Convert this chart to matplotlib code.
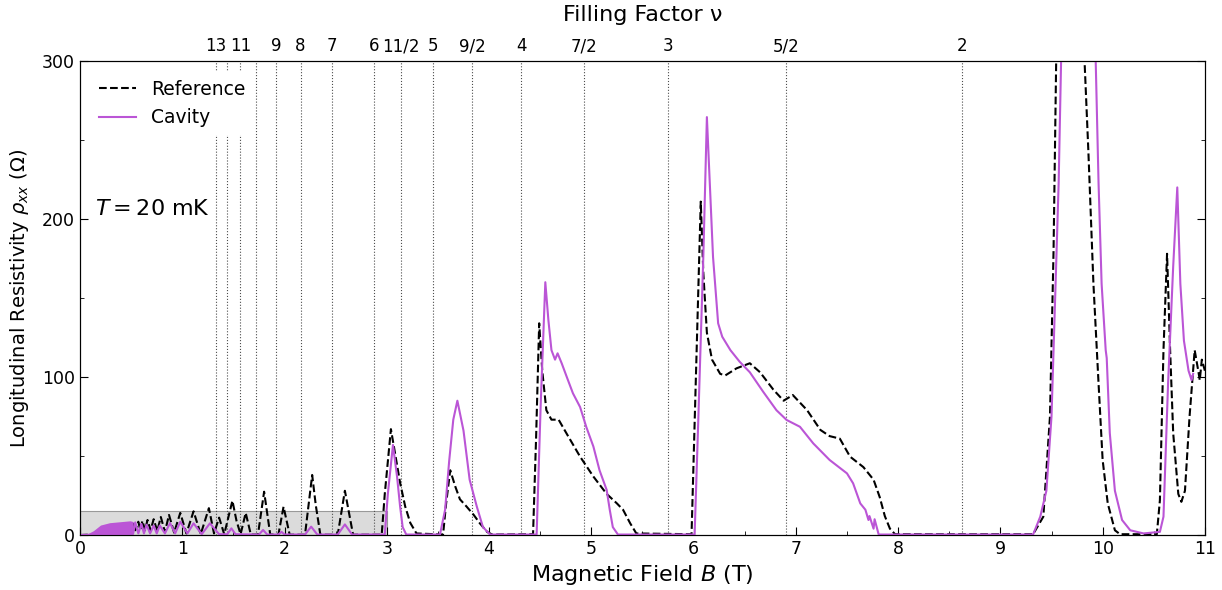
import numpy as np
import matplotlib
matplotlib.use("Agg")
import matplotlib.pyplot as plt
from matplotlib.ticker import MultipleLocator

# filling factors shown on the top axis
nu_vals = [13, 12, 11, 10, 9, 8, 7, 6, 5.5, 5, 4.5, 4, 3.5, 3, 2.5, 2]
nu_labels = ["13", "", "11", "", "9", "8", "7", "6", "11/2", "5", "9/2", "4",
             "7/2", "3", "5/2", "2"]
nu_field = [1.327, 1.4375, 1.568, 1.725, 1.917, 2.156, 2.464, 2.875, 3.136,
            3.45, 3.833, 4.3125, 4.93, 5.75, 6.90, 8.625]

# reference trace (B in T, rho_xx in Ohm)
ref_B = [0.0, 0.40, 0.44, 0.46, 0.48, 0.50, 0.52, 0.54, 0.57, 0.59, 0.61, 0.635,
         0.66, 0.69, 0.72, 0.755, 0.79, 0.83, 0.87, 0.92, 0.98, 1.04, 1.11, 1.18,
         1.26, 1.31, 1.36, 1.41, 1.45, 1.49, 1.53, 1.57, 1.62, 1.67, 1.74, 1.77,
         1.80, 1.83, 1.86, 1.94, 1.965, 1.99, 2.02, 2.05, 2.20, 2.235, 2.27, 2.305,
         2.35, 2.52, 2.555, 2.59, 2.63, 2.67, 2.95, 2.98, 3.04, 3.08, 3.13, 3.18,
         3.23, 3.29, 3.55, 3.58, 3.62, 3.67, 3.715, 3.78, 3.85, 3.91, 3.98, 4.03,
         4.43, 4.46, 4.49, 4.52, 4.56, 4.61, 4.68, 4.76, 4.89, 5.02, 5.15, 5.25,
         5.31, 5.38, 5.44, 5.98, 6.01, 6.07, 6.095, 6.13, 6.18, 6.26, 6.31, 6.42,
         6.55, 6.65, 6.78, 6.88, 6.97, 7.11, 7.24, 7.33, 7.43, 7.53, 7.66, 7.76,
         7.82, 7.87, 7.92, 7.97, 9.32, 9.42, 9.485, 9.52, 9.55, 9.70, 9.81, 9.86,
         9.91, 9.96, 10.0, 10.05, 10.12, 10.17, 10.53, 10.56, 10.595, 10.63, 10.66,
         10.69, 10.74, 10.77, 10.805, 10.85, 10.90, 10.935, 10.95, 10.97, 11.0]
ref_R = [0.0, 1, 5, 2, 6, 2.5, 7, 3, 8.4, 3, 9, 3,
         9.5, 3, 10, 2.5, 11.4, 2, 12.7, 1.5, 14, 1, 15, 0.5,
         17, 1, 11, 0.5, 11, 21.7, 9, 0.5, 14, 0.3, 0.3, 14,
         27.4, 14, 0.3, 0.3, 9, 17.9, 9, 0.2, 0.2, 19, 38, 19,
         0.2, 0.2, 14, 28, 14, 0.2, 0.2, 26, 67, 52, 33, 18,
         7.6, 1, 0.3, 20, 41, 30.6, 22.6, 18, 12.7, 7.4, 2, 0.3,
         0.5, 62, 134, 104, 79, 73, 73, 64, 49.6, 37, 26, 20,
         16, 7.4, 1, 0.5, 70, 211, 166, 128, 111, 102, 101, 105.5,
         108.7, 103, 92, 85, 88.6, 79, 66.5, 62.6, 61, 49.6, 43, 35,
         24, 12, 4, 0.5, 0.5, 11.6, 75, 180, 320, 500, 320, 243.7,
         159, 96, 47.5, 20, 3, 0.5, 0.5, 22, 117, 178, 117,
         64.5, 26, 21, 28, 75, 117, 104, 98, 111, 104]

# cavity trace, low-field part drawn as an envelope of unresolved oscillations
cav_env_B = [0.05, 0.13, 0.20, 0.29, 0.39, 0.49, 0.52]
cav_env_R = [0.0, 2.7, 6.3, 7.8, 8.4, 9.0, 8.5]

cav_B = [0.0, 0.52, 0.54, 0.57, 0.60, 0.625, 0.65, 0.685, 0.72, 0.75, 0.78, 0.83,
         0.88, 0.93, 0.98, 1.05, 1.11, 1.19, 1.27, 1.36, 1.44, 1.48, 1.52, 1.75,
         1.79, 1.83, 1.94, 1.97, 2.00, 2.20, 2.26, 2.32, 2.52, 2.59, 2.66, 2.98,
         3.01, 3.06, 3.10, 3.13, 3.155, 3.19, 3.52, 3.57, 3.61, 3.65, 3.69, 3.75,
         3.81, 3.88, 3.94, 4.01, 4.465, 4.505, 4.55, 4.58, 4.61, 4.645, 4.67, 4.71,
         4.76, 4.82, 4.89, 4.95, 5.02, 5.08, 5.15, 5.18, 5.21, 5.26, 6.01, 6.045,
         6.095, 6.13, 6.19, 6.24, 6.28, 6.36, 6.45, 6.55, 6.68, 6.81, 6.91, 7.04,
         7.17, 7.33, 7.50, 7.56, 7.63, 7.68, 7.71, 7.72, 7.76, 7.77, 7.81, 9.32,
         9.39, 9.45, 9.50, 9.53, 9.57, 9.60, 9.78, 9.925, 9.96, 9.99, 10.03, 10.04,
         10.07, 10.12, 10.19, 10.27, 10.40, 10.56, 10.595, 10.64, 10.69, 10.73,
         10.76, 10.795, 10.84, 10.87, 10.885]
cav_R = [0.0, 1, 8, 1, 7, 1, 6.5, 1, 6, 1, 6, 1,
         7.6, 1, 8.4, 1, 7.4, 0.5, 7.4, 0.5, 0.5, 4.2, 0.5, 0.3,
         3.2, 0.3, 0.3, 2, 0.3, 0.3, 5.3, 0.3, 0.3, 6.7, 0.3, 0.3,
         26, 57, 37, 18, 5, 0.3, 0.3, 16, 47, 73, 85, 66,
         35, 18, 5, 0.3, 0.3, 83, 160, 136, 117, 111, 115, 108.7,
         100, 89.7, 81, 68.5, 56, 41, 28.5, 16, 5, 0.3, 0.3, 71,
         176, 264.5, 176, 134, 125.5, 117, 109.7, 103, 90.7, 79, 72.8, 68.5,
         58, 47.5, 39, 32.7, 20, 16, 9.5, 12, 4, 10, 0.3, 0.3,
         11.6, 28, 75, 138, 223, 320, 500, 320, 223, 159, 117, 112,
         64.5, 28, 9.5, 3, 1, 2, 11.6, 96, 170, 220,
         159, 123, 104, 98, 102]

fig, ax = plt.subplots(figsize=(12.22, 5.9), dpi=100)
fig.subplots_adjust(left=0.0655, right=0.986, bottom=0.0932, top=0.8966)

purple = "#BB55D6"

# shaded low-field box
ax.fill_between([0, 3.0], 0, 15, facecolor="0.86", edgecolor="0.6", lw=0.8, zorder=0)

for b in nu_field:
    ax.axvline(b, color="0.3", ls=":", lw=0.8, zorder=1)

ax.plot(ref_B, ref_R, color="black", ls="--", lw=1.5, label="Reference", zorder=3)
ax.fill_between(cav_env_B, 0, cav_env_R, color=purple, lw=0, zorder=4)
ax.plot(cav_B, cav_R, color=purple, lw=1.5, label="Cavity", zorder=4)

ax.set_xlim(0, 11)
ax.set_ylim(0, 300)
ax.xaxis.set_major_locator(MultipleLocator(1))
ax.xaxis.set_minor_locator(MultipleLocator(0.5))
ax.yaxis.set_major_locator(MultipleLocator(100))
ax.yaxis.set_minor_locator(MultipleLocator(50))
ax.tick_params(which="both", direction="in", right=True, top=False, labelsize=12.5)
ax.tick_params(which="major", length=6)
ax.tick_params(which="minor", length=3)

ax.set_xlabel("Magnetic Field $B$ (T)", fontsize=16)
ax.set_ylabel(r"Longitudinal Resistivity $\rho_{xx}$ ($\Omega$)", fontsize=14, labelpad=8)

ax.text(0.15, 200, "$T = 20$ mK", fontsize=16, va="bottom")

leg = ax.legend(loc="upper left", fontsize=13.5, frameon=True, fancybox=False,
                framealpha=1, edgecolor="none", borderaxespad=0.6)
leg.set_zorder(10)

ax2 = ax.twiny()
ax2.set_xlim(ax.get_xlim())
ax2.set_xticks(nu_field)
ax2.set_xticklabels(nu_labels)
ax2.tick_params(direction="in", length=0, labelsize=12, pad=4)
ax2.set_xlabel("Filling Factor ν", fontsize=16, labelpad=12)

fig.savefig("out.png", dpi=100)
